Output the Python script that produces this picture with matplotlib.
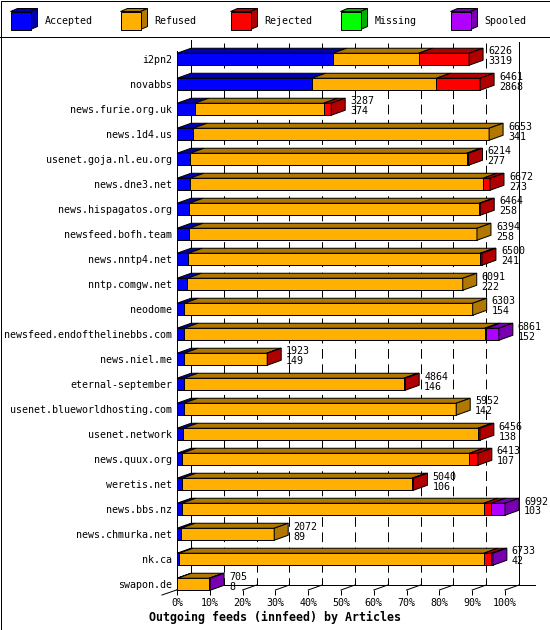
import matplotlib
matplotlib.use("Agg")
import matplotlib.pyplot as plt
from matplotlib.patches import Polygon, Rectangle
import numpy as np

# data (article counts per outgoing feed)
hosts = ["i2pn2", "novabbs", "news.furie.org.uk", "news.1d4.us",
         "usenet.goja.nl.eu.org", "news.dne3.net", "news.hispagatos.org",
         "newsfeed.bofh.team", "news.nntp4.net", "nntp.comgw.net", "neodome",
         "newsfeed.endofthelinebbs.com", "news.niel.me", "eternal-september",
         "usenet.blueworldhosting.com", "usenet.network", "news.quux.org",
         "weretis.net", "news.bbs.nz", "news.chmurka.net", "nk.ca", "swapon.de"]
totals = [6226, 6461, 3287, 6653, 6214, 6672, 6464, 6394, 6500, 6091, 6303,
          6861, 1923, 4864, 5952, 6456, 6413, 5040, 6992, 2072, 6733, 705]
accepted = [3319, 2868, 374, 341, 277, 273, 258, 258, 241, 222, 154,
            152, 149, 146, 142, 138, 107, 106, 103, 89, 42, 8]
refused = [1830, 2663, 2750, 6312, 5899, 6250, 6186, 6136, 6225, 5869, 6149,
           6408, 1764, 4688, 5810, 6278, 6127, 4904, 6436, 1983, 6497, 677]
rejected = [1077, 930, 163, 0, 38, 149, 20, 0, 34, 0, 0,
            30, 10, 30, 0, 40, 179, 30, 163, 0, 163, 0]
missing = [0] * 22
spooled = [0, 0, 0, 0, 0, 0, 0, 0, 0, 0, 0,
           271, 0, 0, 0, 0, 0, 0, 290, 0, 31, 20]

series = ["Accepted", "Refused", "Rejected", "Missing", "Spooled"]
front_colors = ["#0000ff", "#ffb000", "#ff0000", "#00ff00", "#b000ff"]
dark_colors = ["#0000b0", "#b07800", "#b00000", "#00b000", "#7800b0"]

W, H = 550, 630
LW = 0.72
fs = 7.2
plt.rcParams["font.family"] = ["DejaVu Sans Mono"]

fig = plt.figure(figsize=(5.5, 6.3), dpi=100)

# frame, legend and title in pixel coordinates
bg = fig.add_axes([0, 0, 1, 1])
bg.set_xlim(0, W)
bg.set_ylim(H, 0)
bg.axis("off")
bg.add_patch(Rectangle((0.5, 0.5), W - 1, H - 1, fill=False, lw=LW, ec="black"))
bg.plot([0, W], [37, 37], color="black", lw=LW)
for i, name in enumerate(series):
    x0 = 10.5 + 110 * i
    bg.add_patch(Polygon([(x0, 11.5), (x0 + 7, 8.5), (x0 + 27, 8.5), (x0 + 20, 11.5)],
                         closed=True, fc=dark_colors[i], ec="black", lw=LW))
    bg.add_patch(Polygon([(x0 + 20, 11.5), (x0 + 27, 8.5), (x0 + 27, 26.5), (x0 + 20, 29.5)],
                         closed=True, fc=dark_colors[i], ec="black", lw=LW))
    bg.add_patch(Rectangle((x0, 11.5), 20, 18, fc=front_colors[i], ec="black", lw=LW))
    bg.text(x0 + 34, 21, name, va="center", ha="left", fontsize=fs)
bg.text(275, 617, "Outgoing feeds (innfeed) by Articles", ha="center", va="center",
        fontsize=8.4, fontweight="bold")

# main plot area: front face from x=177 to 505 px, rows 25 px apart
n = len(hosts)
rows = np.arange(n)
xmax = max(totals)
ax = fig.add_axes([177 / W, 1 - 590 / H, 328 / W, 550 / H])
ax.patch.set_visible(False)
y_bottom, y_top = 21.23, -0.77
ax.set_xlim(0, xmax)
ax.set_ylim(y_bottom, y_top)
for s in ax.spines.values():
    s.set_visible(False)

ppx = xmax / 328.0
ppy = (y_bottom - y_top) / 550.0
ddx = 14 * ppx
ddy = 5 * ppy
h = 6 * ppy
floor_back = y_bottom - ddy

# grid / frame lines
grid_x = [p / 10 * xmax + ddx for p in range(1, 10)]
ax.vlines(grid_x, -16 * ppy, floor_back, colors="black", linewidths=LW,
          linestyles=(0, (7 / LW, 4 / LW)), zorder=1, clip_on=False)
ax.plot([ddx, ddx], [y_top, floor_back], color="black", lw=LW, zorder=1, clip_on=False)
ax.plot([xmax + ddx] * 2, [y_top + 2 * ppy, floor_back], color="black", lw=LW,
        zorder=1, clip_on=False)
ax.plot([0, 0], [-8 * ppy, y_bottom], color="black", lw=LW, zorder=4, clip_on=False)
ax.plot([-15 * ppx, ddx], [y_bottom + ddy, floor_back], color="black", lw=LW,
        zorder=1, clip_on=False)
ax.plot([ddx, xmax + ddx + 16 * ppx], [floor_back] * 2, color="black", lw=LW,
        zorder=1, clip_on=False)
for p in range(0, 11):
    ax.plot([p / 10 * xmax, p / 10 * xmax + ddx], [y_bottom, floor_back],
            color="black", lw=LW, zorder=1, clip_on=False)

# bars
data = np.array([accepted, refused, rejected, missing, spooled], dtype=float)
lefts = np.vstack([np.zeros(n), np.cumsum(data, axis=0)[:-1]])
for k in range(len(series)):
    nz = data[k] > 0
    ax.barh(rows[nz], data[k][nz], left=lefts[k][nz], height=2 * h,
            color=front_colors[k], edgecolor="black", linewidth=LW, zorder=3,
            clip_on=False)
    for i in rows[nz]:
        a = lefts[k][i]
        b = a + data[k][i]
        yt = i - h
        ax.add_patch(Polygon([(a, yt), (b, yt), (b + ddx, yt - ddy), (a + ddx, yt - ddy)],
                             closed=True, fc=dark_colors[k], ec="black", lw=LW,
                             zorder=3, clip_on=False))

for i in rows:
    last = max(k for k in range(len(series)) if data[k][i] > 0)
    e = data[:, i].sum()
    yt, yb = i - h, i + h
    ax.add_patch(Polygon([(e, yt), (e + ddx, yt - ddy), (e + ddx, yb - ddy), (e, yb)],
                         closed=True, fc=dark_colors[last], ec="black", lw=LW,
                         zorder=3, clip_on=False))
    ax.text(totals[i] + ddx + 5 * ppx, i - 0.31, str(totals[i]), va="center",
            ha="left", fontsize=fs, zorder=5)
    ax.text(totals[i] + ddx + 5 * ppx, i + 0.09, str(accepted[i]), va="center",
            ha="left", fontsize=fs, zorder=5)

ax.set_xticks([p / 10 * xmax for p in range(11)])
ax.set_xticklabels([f"{p * 10}%" for p in range(11)], fontsize=fs)
ax.tick_params(axis="x", length=5 * LW, width=LW, direction="out", pad=2)
ax.set_yticks(rows)
ax.set_yticklabels(hosts, fontsize=fs)
ax.tick_params(axis="y", length=0, pad=3.6)

fig.savefig("out.png", dpi=100)
